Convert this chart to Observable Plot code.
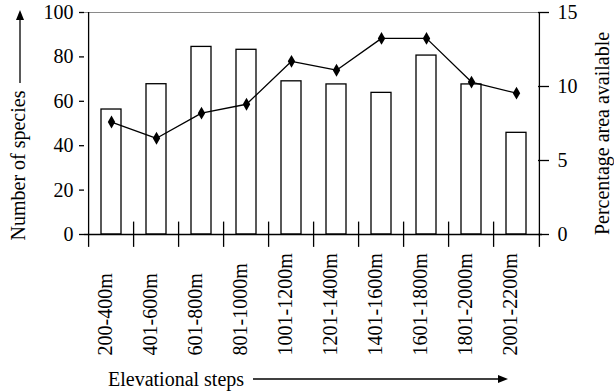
<!DOCTYPE html>
<html>
<head>
<meta charset="utf-8">
<script src="https://cdn.jsdelivr.net/npm/d3@7"></script>
<script src="https://cdn.jsdelivr.net/npm/@observablehq/plot@0.6"></script>
<style>
  html, body { margin: 0; padding: 0; background: white; }
  #chart svg { display: block; }
  #xcaption { position: relative; height: 26px; width: 614px; font-family: "Liberation Serif", "Times New Roman", serif;
    font-size: 20px; line-height: 26px; color: black; }
  #xcaption span { position: absolute; left: 108px; top: 0; white-space: nowrap; }
  #xcaption svg { position: absolute; left: 0; top: 0; }
</style>
</head>
<body>
<div id="chart"></div>
<div id="xcaption"><span>Elevational steps</span><svg width="614" height="26"></svg></div>
<script>
const categories = ["200-400m", "401-600m", "601-800m", "801-1000m", "1001-1200m",
  "1201-1400m", "1401-1600m", "1601-1800m", "1801-2000m", "2001-2200m"];
const speciesCount = [56.3, 67.7, 84.5, 83.2, 69, 67.6, 63.8, 80.6, 67.6, 45.8];
const areaPercent = [7.6, 6.5, 8.2, 8.8, 11.7, 11.1, 13.25, 13.25, 10.3, 9.55];
const leftTicks = [0, 20, 40, 60, 80, 100];
const rightTicks = [0, 5, 10, 15];
const leftMax = 100, rightMax = 15;

const rows = categories.map((c, i) => ({cat: c, species: speciesCount[i], area: areaPercent[i]}));
const toLeft = v => v * leftMax / rightMax;

const W = 614, H = 366, mL = 84, mR = 72, mT = 12, mB = 132;
const stepPx = (W - mL - mR) / categories.length;
const serif = "Liberation Serif, Times New Roman, serif";

const chart = Plot.plot({
  width: W, height: H,
  marginLeft: mL, marginRight: mR, marginTop: mT, marginBottom: mB,
  style: {fontFamily: serif, fontSize: "20px"},
  x: {domain: categories, paddingInner: 0.563, paddingOuter: 0.2815, axis: null},
  y: {domain: [0, leftMax], axis: null},
  marks: [
    Plot.ruleY([leftMax], {stroke: "#8a8a8a", strokeWidth: 1.2}),
    Plot.barY(rows, {x: "cat", y: "species", fill: "white", stroke: "black", strokeWidth: 1.3}),
    Plot.ruleY([0], {stroke: "black", strokeWidth: 1.3}),
    Plot.ruleX(categories, {x: d => d, dx: -stepPx / 2, y1: -5.8,
      y2: (d, i) => i === 0 ? leftMax : 5.6, stroke: "black", strokeWidth: 1.3}),
    Plot.ruleX([categories[categories.length - 1]], {x: d => d, dx: stepPx / 2, y1: -5.8, y2: leftMax,
      stroke: "black", strokeWidth: 1.3}),
    Plot.axisY(leftTicks, {anchor: "left", tickSize: 5, tickPadding: 6, label: null,
      fontSize: 20, fontFamily: serif, strokeWidth: 1.3}),
    Plot.axisY(rightTicks.map(toLeft), {anchor: "right", tickSize: 11, dx: -5, tickPadding: 9, label: null,
      fontSize: 20, fontFamily: serif, strokeWidth: 1.3,
      tickFormat: d => String(Math.round(d * rightMax / leftMax))}),
    Plot.line(rows, {x: "cat", y: d => toLeft(d.area), stroke: "black", strokeWidth: 1.3}),
    Plot.dot(rows, {x: "cat", y: d => toLeft(d.area), symbol: "diamond", fill: "black", r: 3.9}),
    Plot.text(rows, {x: "cat", text: "cat", frameAnchor: "bottom", rotate: -90, textAnchor: "start",
      dy: 121, fontSize: 20, fontFamily: serif}),
    Plot.text(["Number of species"], {text: d => d, frameAnchor: "left", rotate: -90, textAnchor: "start",
      dx: -66, dy: 117, fontSize: 20, fontFamily: serif}),
    Plot.text(["Percentage area available"], {text: d => d, frameAnchor: "right", rotate: -90,
      textAnchor: "middle", dx: 60, dy: 10, fontSize: 20, fontFamily: serif})
  ]
});

document.getElementById("chart").appendChild(chart);

// decorative arrows beside the axis titles
function arrow(sel, x1, y1, x2, y2) {
  const grp = sel.append("g").attr("fill", "black").attr("stroke", "black");
  const ang = Math.atan2(y2 - y1, x2 - x1);
  const L = 10, Wd = 4;
  const bx = x2 - L * Math.cos(ang), by = y2 - L * Math.sin(ang);
  grp.append("line").attr("x1", x1).attr("y1", y1).attr("x2", bx).attr("y2", by).attr("stroke-width", 1.3);
  const px = -Math.sin(ang) * Wd, py = Math.cos(ang) * Wd;
  grp.append("path").attr("stroke", "none")
    .attr("d", `M${x2},${y2}L${bx + px},${by + py}L${bx - px},${by - py}Z`);
}
arrow(d3.select(chart), 20, 83, 20, 10);
arrow(d3.select("#xcaption svg"), 253, 13, 508, 13);
</script>
</body>
</html>
